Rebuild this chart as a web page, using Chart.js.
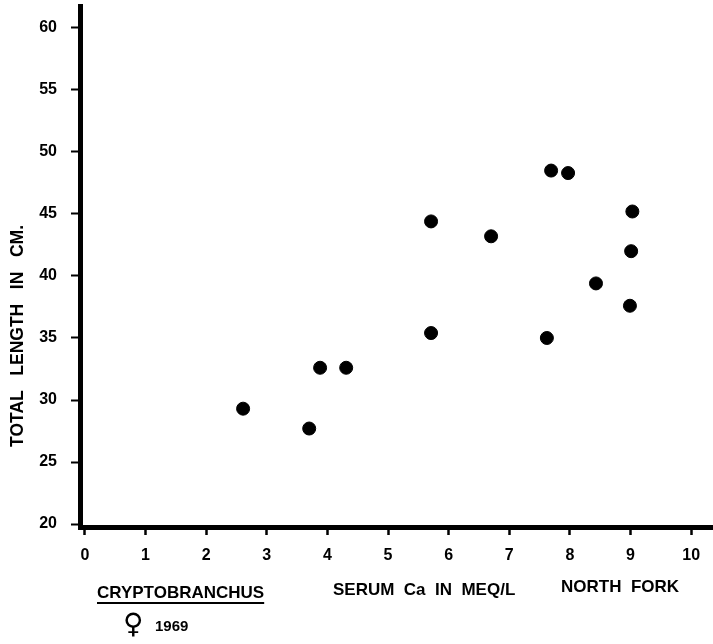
<!DOCTYPE html>
<html>
<head>
<meta charset="utf-8">
<script src="https://cdn.jsdelivr.net/npm/chart.js@4/dist/chart.umd.min.js"></script>
<style>
  body { margin: 0; background: #fff; }
  #box { width: 713px; height: 644px; position: relative; }
</style>
</head>
<body>
<div id="box"><canvas id="grafico"></canvas></div>
<script>
// valores (Cryptobranchus, femeas, 1969)
var serumCa = [2.61, 3.70, 3.88, 4.31, 5.71, 5.71, 6.70, 7.69, 7.97, 7.62, 9.03, 9.01, 8.43, 8.99];
var totalLength = [29.3, 27.7, 32.6, 32.6, 44.4, 35.4, 43.2, 48.5, 48.3, 35.0, 45.2, 42.0, 39.4, 37.6];

var tituloY = "TOTAL   LENGTH   IN   CM.";
var tituloX = "SERUM  Ca  IN  MEQ/L";
var especie = "CRYPTOBRANCHUS";
var local = "NORTH  FORK";
var ano = "1969";

var pontos = [];
for (let i = 0; i < serumCa.length; i++) {
    pontos.push({x: serumCa[i], y: totalLength[i]});
}

// textos de fora dos eixos
var textosExtras = {
    id: 'textosExtras',
    afterDraw: function(chart) {
        var ctx = chart.ctx;
        ctx.save();
        ctx.fillStyle = '#000';
        ctx.textBaseline = 'middle';

        ctx.save();
        ctx.translate(18, 336);
        ctx.rotate(-Math.PI / 2);
        ctx.textAlign = 'center';
        ctx.font = 'bold 17.5px "Liberation Sans", Arial';
        ctx.fillText(tituloY, 0, 0);
        ctx.restore();

        ctx.textAlign = 'left';
        ctx.font = 'bold 17px "Liberation Sans", Arial';
        ctx.fillText(especie, 97, 593);
        var w = ctx.measureText(especie).width;
        ctx.fillRect(97, 602, w, 2);

        ctx.fillText(tituloX, 333, 590);
        ctx.fillText(local, 561, 587);

        ctx.font = 'bold 28px "DejaVu Sans"';
        ctx.fillText('\u2640', 123, 626);
        ctx.font = 'bold 15px "Liberation Sans", Arial';
        ctx.fillText(ano, 155, 627);
        ctx.restore();
    }
};

var ctx1 = document.getElementById("grafico").getContext("2d");

new Chart(ctx1, {
    type: "scatter",
    data: {
        datasets: [{
            label: "Cryptobranchus",
            data: pontos,
            backgroundColor: "#000",
            borderColor: "#000",
            pointRadius: 6.5,
            pointHoverRadius: 6.5
        }]
    },
    options: {
        responsive: true,
        maintainAspectRatio: false,
        animation: false,
        layout: {
            autoPadding: false,
            padding: {top: 6, right: 0, left: 0, bottom: 0}
        },
        plugins: {
            legend: { display: false },
            tooltip: { enabled: false }
        },
        scales: {
            x: {
                type: 'linear',
                min: -0.08,
                max: 10.36,
                afterFit: function(scale) {
                    scale.height = 117;
                    scale.paddingLeft = 0;
                    scale.paddingRight = 0;
                },
                border: { display: true, width: 5, color: '#000' },
                grid: {
                    display: true,
                    drawOnChartArea: false,
                    drawTicks: true,
                    tickLength: 8,
                    tickWidth: 2.5,
                    tickColor: '#000'
                },
                ticks: {
                    stepSize: 1,
                    includeBounds: false,
                    color: '#000',
                    padding: 11,
                    maxRotation: 0,
                    font: { size: 16, weight: 'bold', family: '"Liberation Sans", Arial' }
                }
            },
            y: {
                type: 'linear',
                min: 19.76,
                max: 61.77,
                afterFit: function(scale) {
                    scale.width = 80;
                    scale.paddingTop = 0;
                    scale.paddingBottom = 0;
                },
                border: { display: true, width: 5, color: '#000' },
                grid: {
                    display: true,
                    drawOnChartArea: false,
                    drawTicks: true,
                    tickLength: 9,
                    tickWidth: 2,
                    tickColor: '#000'
                },
                ticks: {
                    stepSize: 5,
                    includeBounds: false,
                    color: '#000',
                    padding: 14,
                    font: { size: 16, weight: 'bold', family: '"Liberation Sans", Arial' }
                }
            }
        }
    },
    plugins: [textosExtras]
});
</script>
</body>
</html>
